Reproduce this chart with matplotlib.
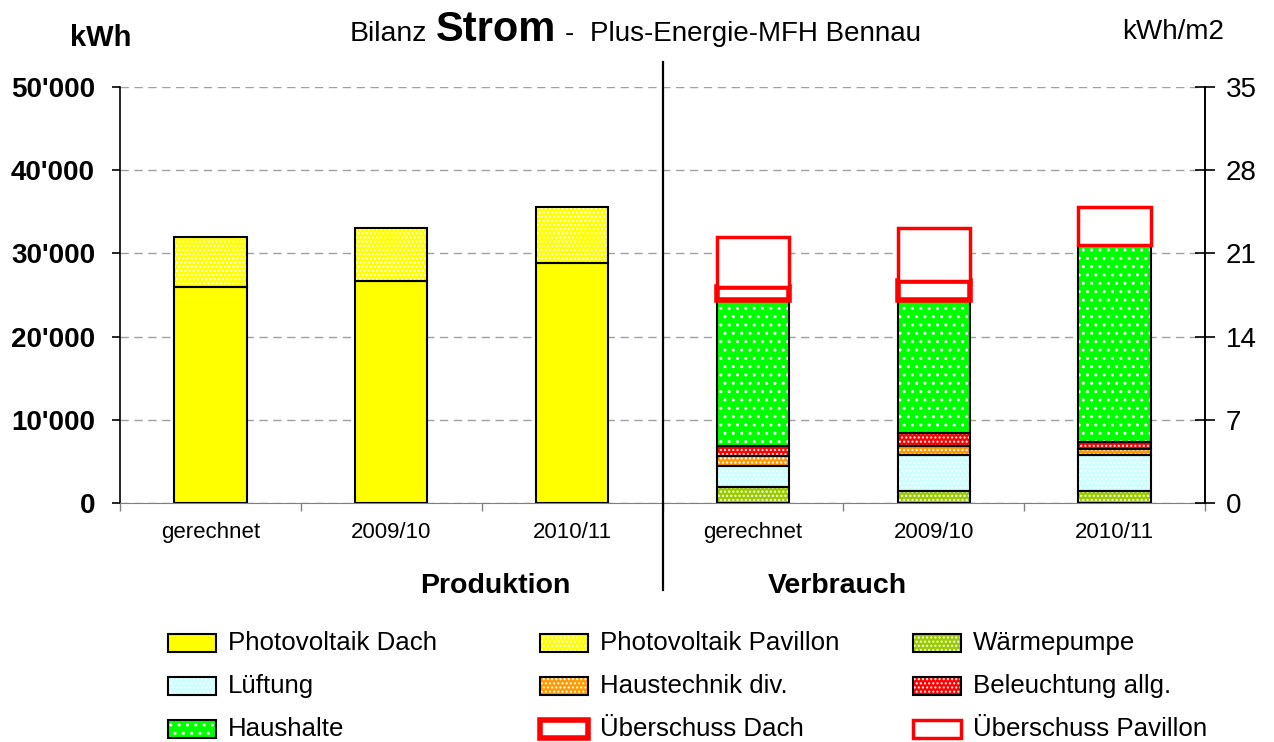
import matplotlib.pyplot as plt
from matplotlib.patches import Rectangle
from matplotlib.ticker import FuncFormatter, FixedLocator
import numpy as np

plt.rcParams['font.family'] = ['Liberation Sans', 'DejaVu Sans']

#----------------- data (kWh)
periods = ['gerechnet', '2009/10', '2010/11']
pv_dach = [26000, 26700, 28900]
pv_pavillon = [6000, 6300, 6700]
waermepumpe = [1900, 1500, 1450]
lueftung = [2600, 4300, 4300]
haustechnik = [1100, 1050, 700]
beleuchtung = [1300, 1600, 900]
haushalte = [17500, 15950, 23650]
ueberschuss_dach = [1600, 2300, 0]
ueberschuss_pavillon = [6000, 6300, 4600]

y_ticks = [0, 10000, 20000, 30000, 40000, 50000]
y2_ticks = [0, 7, 14, 21, 28, 35]

#----------------- styles
W, H = 1274, 742
col_dach = '#FFFF00'
col_wp = '#99CC00'
col_lue = '#CCFFFF'
col_ht = '#FF9900'
col_bel = '#FF0000'
col_hh = '#00FF00'
col_red = '#FF0000'
bw = 0.4
fine = '....'
coarse = '..'


def hatched_bar(ax, x, h, b, fc, hatch):
    ax.bar(x, h, bw, bottom=b, color=fc, edgecolor='white', linewidth=0, hatch=hatch, zorder=2)
    ax.bar(x, h, bw, bottom=b, fill=False, edgecolor='black', linewidth=1.5, zorder=3)


fig = plt.figure(figsize=(W / 100, H / 100), dpi=100)
ax = fig.add_axes([120 / W, 1 - 503 / H, (1205 - 120) / W, (503 - 87) / H])

x_prod = np.arange(3)
x_cons = np.arange(3) + 3

# Produktion
hatched_bar(ax, x_prod, pv_dach, 0, col_dach, None)
hatched_bar(ax, x_prod, pv_pavillon, pv_dach, col_dach, fine)

# Verbrauch
bottom = np.zeros(3)
for vals, fc, ht in [(waermepumpe, col_wp, fine), (lueftung, col_lue, fine),
                     (haustechnik, col_ht, fine), (beleuchtung, col_bel, fine),
                     (haushalte, col_hh, coarse)]:
    hatched_bar(ax, x_cons, vals, bottom, fc, ht)
    bottom = bottom + np.array(vals)

ud = np.array(ueberschuss_dach)
m = ud > 0
ax.bar(x_cons[m], ud[m], bw, bottom=bottom[m], facecolor='white', edgecolor=col_red,
       linewidth=4, zorder=4)
bottom = bottom + ud
ax.bar(x_cons, ueberschuss_pavillon, bw, bottom=bottom, facecolor='white', edgecolor=col_red,
       linewidth=2.5, zorder=4)

# axes
ax.set_xlim(-0.5, 5.5)
ax.set_ylim(0, 50000)
ax.set_yticks(y_ticks)
ax.yaxis.set_major_formatter(FuncFormatter(lambda v, p: f"{int(v):,}".replace(',', "'")))
ax.tick_params(axis='y', direction='out', length=6, width=1.2, pad=12, labelsize=20)
for lab in ax.get_yticklabels():
    lab.set_fontweight('bold')
ax.set_xticks(np.arange(6))
ax.set_xticklabels(periods + periods)
ax.tick_params(axis='x', which='major', length=0, pad=14, labelsize=16)
ax.xaxis.set_minor_locator(FixedLocator(np.arange(-0.5, 6, 1.0)))
ax.tick_params(axis='x', which='minor', length=6, width=1, color='#808080', direction='out')
ax.yaxis.grid(True, linestyle=(0, (6, 4)), color='#A0A0A0', linewidth=1)
ax.set_axisbelow(True)
ax.spines['top'].set_visible(False)
ax.spines['bottom'].set_color('#808080')
ax.spines['left'].set_linewidth(1.2)
ax.spines['right'].set_linewidth(1.2)

ax2 = ax.twinx()
ax2.set_ylim(0, 35)
ax2.set_yticks(y2_ticks)
ax2.tick_params(axis='y', direction='inout', length=14, width=1.2, pad=8, labelsize=20)
for s in ['top', 'left', 'bottom']:
    ax2.spines[s].set_visible(False)
ax2.spines['right'].set_linewidth(1.2)

# divider line between Produktion and Verbrauch
ax.axvline(2.5, ymin=-(590 - 503) / 416, ymax=1 + 25 / 416, color='black', linewidth=1.6,
           clip_on=False, zorder=5)

# texts
fig.text(350 / W, 1 - 41 / H, 'Bilanz', fontsize=20.5, ha='left', va='baseline')
fig.text(436 / W, 1 - 41 / H, 'Strom', fontsize=30, fontweight='bold', ha='left', va='baseline')
fig.text(565 / W, 1 - 41 / H, '-', fontsize=20, ha='left', va='baseline')
fig.text(590 / W, 1 - 41 / H, 'Plus-Energie-MFH Bennau', fontsize=20, ha='left', va='baseline')
fig.text(101 / W, 1 - 46 / H, 'kWh', fontsize=21, fontweight='bold', ha='center', va='baseline')
fig.text(1173 / W, 1 - 39 / H, 'kWh/m2', fontsize=20, ha='center', va='baseline')
fig.text(495 / W, 1 - 593 / H, 'Produktion', fontsize=20.5, fontweight='bold', ha='center', va='baseline')
fig.text(837 / W, 1 - 593 / H, 'Verbrauch', fontsize=20.5, fontweight='bold', ha='center', va='baseline')

# legend
legend_items = [
    ('Photovoltaik Dach', col_dach, None, 'black', 1.5),
    ('Photovoltaik Pavillon', col_dach, fine, 'black', 1.5),
    ('Wärmepumpe', col_wp, fine, 'black', 1.5),
    ('Lüftung', col_lue, fine, 'black', 1.5),
    ('Haustechnik div.', col_ht, fine, 'black', 1.5),
    ('Beleuchtung allg.', col_bel, fine, 'black', 1.5),
    ('Haushalte', col_hh, coarse, 'black', 1.5),
    ('Überschuss Dach', 'white', None, col_red, 4),
    ('Überschuss Pavillon', 'white', None, col_red, 2.5),
]
col_x = [168, 540, 913]
row_y = [643, 686, 729]
for i, (name, fc, ht, ec, lw) in enumerate(legend_items):
    cx = col_x[i % 3]
    cy = row_y[i // 3]
    x0, y0 = cx / W, 1 - (cy + 9) / H
    fig.add_artist(Rectangle((x0, y0), 48 / W, 18 / H, transform=fig.transFigure,
                             facecolor=fc, edgecolor='white', linewidth=0, hatch=ht))
    fig.add_artist(Rectangle((x0, y0), 48 / W, 18 / H, transform=fig.transFigure,
                             fill=False, edgecolor=ec, linewidth=lw))
    fig.text((cx + 60) / W, 1 - cy / H, name, fontsize=18.6, ha='left', va='center')

fig.savefig('out.png', dpi=100)
